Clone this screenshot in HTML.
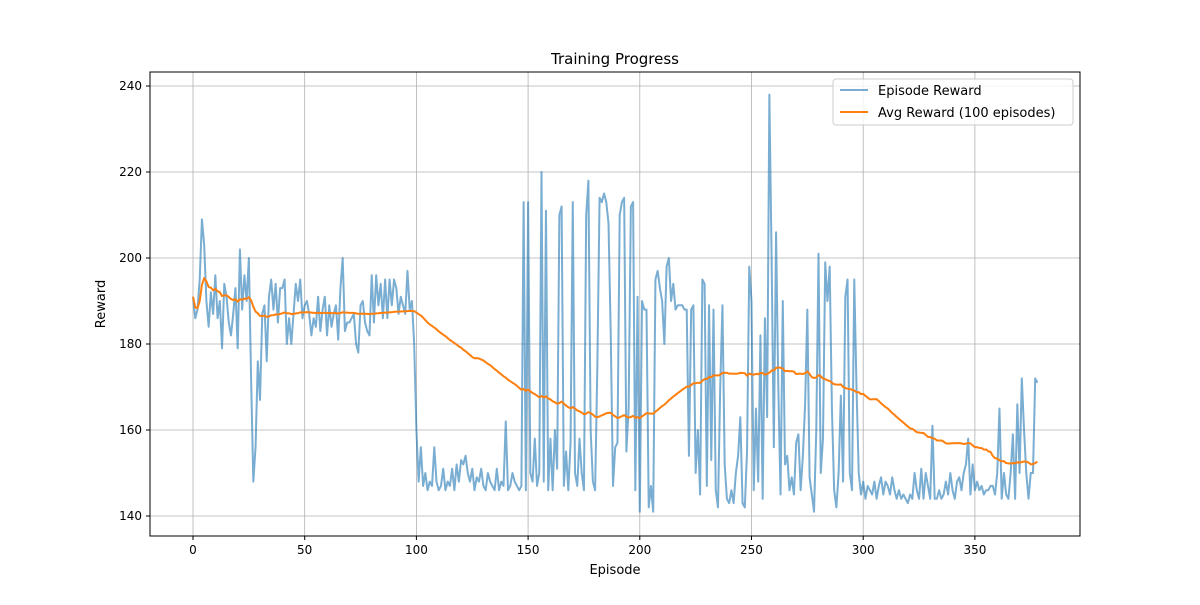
<!DOCTYPE html>
<html><head><meta charset="utf-8"><style>
html,body{margin:0;padding:0;background:#fff;}
svg{font-family:"DejaVu Sans","Liberation Sans",sans-serif;}
</style></head><body>
<svg id="chart" width="1200" height="600">
<rect width="1200" height="600" fill="#fff"/>
<text x="615" y="64" font-size="15" text-anchor="middle">Training Progress</text>
<g id="grid"></g><g id="series"></g>
<rect x="150" y="72" width="930" height="464" fill="none" stroke="#000" stroke-width="1"/>
<g id="ticks"></g>
<text x="615" y="574" font-size="13" text-anchor="middle">Episode</text>
<text x="105" y="304" font-size="13" text-anchor="middle" transform="rotate(-90 105 304)">Reward</text>
<g>
<rect x="833" y="79" width="240" height="46" rx="3" fill="#fff" fill-opacity="0.8" stroke="#ccc"/>
<line x1="840" y1="90" x2="868" y2="90" stroke="#1f77b4" stroke-opacity="0.6" stroke-width="2"/>
<text x="878" y="95" font-size="13">Episode Reward</text>
<line x1="840" y1="112" x2="868" y2="112" stroke="#ff7f0e" stroke-width="2"/>
<text x="878" y="117" font-size="13">Avg Reward (100 episodes)</text>
</g>
</svg>
<script>
const xTicks=[0,50,100,150,200,250,300,350];
const yTicks=[140,160,180,200,220,240];
const rewards=[191,186,188,195,209,203,190,184,192,187,196,186,190,179,194,191,185,182,187,193,179,202,188,196,190,200,172,148,156,176,167,187,189,176,191,195,188,194,185,193,193,195,180,186,180,187,194,190,195,186,189,190,
187,182,186,184,191,183,188,191,182,189,184,187,189,181,193,200,183,185,185,186,187,180,178,189,190,185,183,182,196,185,196,189,194,186,195,186,195,189,195,193,187,191,189,187,197,188,190,180,160,
148,156,147,150,146,148,147,156,148,146,147,151,146,148,147,151,146,152,148,153,152,154,150,148,151,146,149,148,151,147,146,150,148,147,146,151,146,148,147,162,146,147,150,148,147,146,147,
213,146,213,150,148,158,147,150,220,148,211,146,158,146,160,151,210,212,147,155,146,157,213,150,147,158,150,146,210,218,160,148,146,175,214,213,215,213,208,182,147,156,157,210,213,214,155,165,212,213,146,191,141,190,188,188,142,147,141,195,197,193,190,
180,198,200,190,194,188,189,189,189,188,188,154,188,189,150,160,145,195,194,147,189,153,188,146,142,170,189,152,144,143,146,143,150,154,163,143,142,155,198,190,146,165,148,182,144,186,163,238,200,156,
206,170,145,190,152,154,146,149,145,157,159,146,154,166,188,149,145,141,160,201,150,158,199,190,198,165,146,142,150,168,148,191,195,150,146,195,170,150,145,
148,144,147,146,145,148,144,147,149,145,148,147,145,149,146,144,146,144,145,144,143,145,144,150,146,144,151,144,150,147,144,161,144,144,146,144,145,148,145,150,
146,144,148,149,146,150,152,158,145,152,146,148,146,147,145,146,146,147,147,145,150,165,144,150,145,144,150,159,144,166,150,172,160,150,144,150,150,172,171];
const avgWindow=100;
const X0=150,X1=1080,Y0=72,Y1=536,xMin=-19.25,xMax=397.05,yMin=135.35,yMax=243.26;
const xs=v=>X0+(v-xMin)/(xMax-xMin)*(X1-X0);
const ys=v=>Y1-(v-yMin)/(yMax-yMin)*(Y1-Y0);
const NS="http://www.w3.org/2000/svg";
const grid=document.getElementById('grid'),ticks=document.getElementById('ticks'),series=document.getElementById('series');
function mk(tag,attrs,parent){const e=document.createElementNS(NS,tag);for(const k in attrs)e.setAttribute(k,attrs[k]);parent.appendChild(e);return e;}
xTicks.forEach(t=>{const x=xs(t);
const g=mk('line',{x1:x,x2:x,y1:Y0,y2:Y1,stroke:'#b0b0b0','stroke-width':0.8},grid);


mk('line',{x1:x,x2:x,y1:Y1,y2:Y1+4,stroke:'#000'},ticks);
const l=mk('text',{x:x,y:Y1+18,'font-size':12,'text-anchor':'middle'},ticks);l.textContent=t;

});
yTicks.forEach(t=>{const y=ys(t);
const g=mk('line',{x1:X0,x2:X1,y1:y,y2:y,stroke:'#b0b0b0','stroke-width':0.8},grid);


mk('line',{x1:X0-4,x2:X0,y1:y,y2:y,stroke:'#000'},ticks);
const l=mk('text',{x:X0-8,y:y+4,'font-size':12,'text-anchor':'end'},ticks);l.textContent=t;

});
const avg=rewards.map((v,i)=>{const s=rewards.slice(Math.max(0,i-avgWindow+1),i+1);return s.reduce((a,b)=>a+b,0)/s.length;});
const p1=mk('polyline',{points:rewards.map((v,i)=>xs(i)+','+ys(v)).join(' '),fill:'none',stroke:'#1f77b4','stroke-opacity':0.6,'stroke-width':2,'stroke-linejoin':'round'},series);


const p2=mk('polyline',{points:avg.map((v,i)=>xs(i)+','+ys(v)).join(' '),fill:'none',stroke:'#ff7f0e','stroke-width':2,'stroke-linejoin':'round'},series);


</script>
</body></html>
